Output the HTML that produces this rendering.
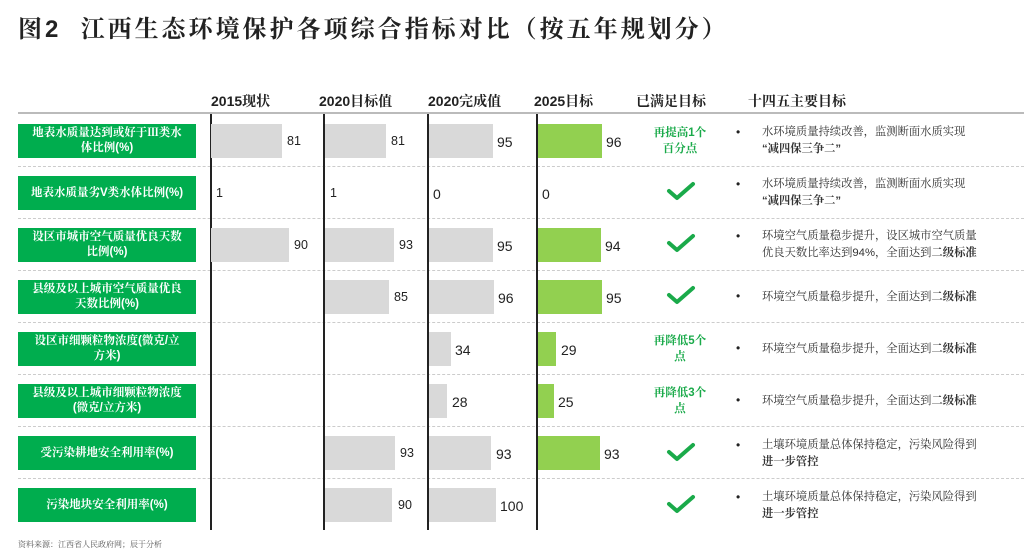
<!DOCTYPE html>
<html><head><meta charset="utf-8"><style>
*{margin:0;padding:0;box-sizing:border-box}
body{width:1024px;height:554px;background:#fff;position:relative;overflow:hidden;font-family:"Liberation Sans","Noto Sans CJK SC",sans-serif;color:#222}
.a{position:absolute}
.title{left:18px;top:9px;font-size:24px;font-weight:bold;letter-spacing:3px;font-family:"Liberation Sans","Noto Serif CJK SC",serif}
.hd{top:91px;font-size:14px;font-weight:bold;font-family:"Liberation Sans","Noto Serif CJK SC",serif}
.lbl{left:18px;width:178px;height:34px;background:#00ad4e;color:#fff;font-size:11.5px;font-weight:bold;display:flex;align-items:center;justify-content:center;text-align:center;line-height:15px;font-family:"Liberation Sans","Noto Serif CJK SC",serif}
.bar{height:34px;background:#d9d9d9}
.g{background:#92d050}
.v{font-size:12.5px;color:#222}
.dash{left:18px;width:1006px;border-top:1px dashed #ccc;height:0}
.vl{width:1.5px;background:#222;top:114px;height:416px}
.ok{font-size:11.5px;color:#1aaa4a;font-weight:bold;text-align:center;width:80px;line-height:16px;font-family:"Liberation Sans","Noto Serif CJK SC",serif}
.txt{left:762px;font-size:11.3px;line-height:17px;color:#333;font-family:"Liberation Sans","Noto Serif CJK SC",serif}
.bl{left:736px;font-size:12px}
</style></head><body>
<div class="a title">图2&nbsp; 江西生态环境保护各项综合指标对比（按五年规划分）</div>
<div class="a hd" style="left:211px">2015现状</div>
<div class="a hd" style="left:319px">2020目标值</div>
<div class="a hd" style="left:428px">2020完成值</div>
<div class="a hd" style="left:534px">2025目标</div>
<div class="a hd" style="left:636px">已满足目标</div>
<div class="a hd" style="left:748px">十四五主要目标</div>
<div class="a" style="left:18px;top:112px;width:1006px;height:2px;background:#bbb"></div>
<div class="a dash" style="top:166px"></div><div class="a dash" style="top:218px"></div><div class="a dash" style="top:270px"></div><div class="a dash" style="top:322px"></div><div class="a dash" style="top:374px"></div><div class="a dash" style="top:426px"></div><div class="a dash" style="top:478px"></div>
<div class="a vl" style="left:210px"></div><div class="a vl" style="left:323px"></div><div class="a vl" style="left:427px"></div><div class="a vl" style="left:536px"></div>

<div class="a lbl" style="top:124px">地表水质量达到或好于Ⅲ类水<br>体比例(%)</div>
<div class="a lbl" style="top:176px">地表水质量劣V类水体比例(%)</div>
<div class="a lbl" style="top:228px">设区市城市空气质量优良天数<br>比例(%)</div>
<div class="a lbl" style="top:280px">县级及以上城市空气质量优良<br>天数比例(%)</div>
<div class="a lbl" style="top:332px">设区市细颗粒物浓度(微克/立<br>方米)</div>
<div class="a lbl" style="top:384px">县级及以上城市细颗粒物浓度<br>(微克/立方米)</div>
<div class="a lbl" style="top:436px">受污染耕地安全利用率(%)</div>
<div class="a lbl" style="top:488px">污染地块安全利用率(%)</div>

<div class="a bar" style="left:211px;top:124px;width:71px"></div><div class="a v" style="left:287px;top:134px">81</div>
<div class="a bar" style="left:325px;top:124px;width:61px"></div><div class="a v" style="left:391px;top:134px">81</div>
<div class="a bar" style="left:429px;top:124px;width:64px"></div><div class="a v" style="left:497px;top:134px;font-size:14px">95</div>
<div class="a bar g" style="left:538px;top:124px;width:64px"></div><div class="a v" style="left:606px;top:134px;font-size:14px">96</div>
<div class="a v" style="left:216px;top:186px">1</div>
<div class="a v" style="left:330px;top:186px">1</div>
<div class="a v" style="left:433px;top:186px;font-size:14px">0</div>
<div class="a v" style="left:542px;top:186px;font-size:14px">0</div>
<div class="a bar" style="left:211px;top:228px;width:78px"></div><div class="a v" style="left:294px;top:238px">90</div>
<div class="a bar" style="left:325px;top:228px;width:69px"></div><div class="a v" style="left:399px;top:238px">93</div>
<div class="a bar" style="left:429px;top:228px;width:64px"></div><div class="a v" style="left:497px;top:238px;font-size:14px">95</div>
<div class="a bar g" style="left:538px;top:228px;width:63px"></div><div class="a v" style="left:605px;top:238px;font-size:14px">94</div>
<div class="a bar" style="left:325px;top:280px;width:64px"></div><div class="a v" style="left:394px;top:290px">85</div>
<div class="a bar" style="left:429px;top:280px;width:65px"></div><div class="a v" style="left:498px;top:290px;font-size:14px">96</div>
<div class="a bar g" style="left:538px;top:280px;width:64px"></div><div class="a v" style="left:606px;top:290px;font-size:14px">95</div>
<div class="a bar" style="left:429px;top:332px;width:22px"></div><div class="a v" style="left:455px;top:342px;font-size:14px">34</div>
<div class="a bar g" style="left:538px;top:332px;width:18px"></div><div class="a v" style="left:561px;top:342px;font-size:14px">29</div>
<div class="a bar" style="left:429px;top:384px;width:18px"></div><div class="a v" style="left:452px;top:394px;font-size:14px">28</div>
<div class="a bar g" style="left:538px;top:384px;width:16px"></div><div class="a v" style="left:558px;top:394px;font-size:14px">25</div>
<div class="a bar" style="left:325px;top:436px;width:70px"></div><div class="a v" style="left:400px;top:446px">93</div>
<div class="a bar" style="left:429px;top:436px;width:62px"></div><div class="a v" style="left:496px;top:446px;font-size:14px">93</div>
<div class="a bar g" style="left:538px;top:436px;width:62px"></div><div class="a v" style="left:604px;top:446px;font-size:14px">93</div>
<div class="a bar" style="left:325px;top:488px;width:67px"></div><div class="a v" style="left:398px;top:498px">90</div>
<div class="a bar" style="left:429px;top:488px;width:67px"></div><div class="a v" style="left:500px;top:498px;font-size:14px">100</div>

<div class="a ok" style="left:640px;top:125px">再提高1个<br>百分点</div>
<div class="a ok" style="left:640px;top:333px">再降低5个<br>点</div>
<div class="a ok" style="left:640px;top:385px">再降低3个<br>点</div>
<svg class="a" style="left:0;top:0" width="1024" height="554">
<g fill="none" stroke="#1aaa4a" stroke-width="4" stroke-linecap="round" stroke-linejoin="round">
<path d="M669 191 L677 198 L693 184"/>
<path d="M669 243 L677 250 L693 236"/>
<path d="M669 295 L677 302 L693 288"/>
<path d="M669 452 L677 459 L693 445"/>
<path d="M669 504 L677 511 L693 497"/>
</g></svg>

<div class="a bl" style="top:125px">•</div><div class="a txt" style="top:124px">水环境质量持续改善，监测断面水质实现<br><b>“减四保三争二”</b></div>
<div class="a bl" style="top:177px">•</div><div class="a txt" style="top:176px">水环境质量持续改善，监测断面水质实现<br><b>“减四保三争二”</b></div>
<div class="a bl" style="top:229px">•</div><div class="a txt" style="top:228px">环境空气质量稳步提升，设区城市空气质量<br>优良天数比率达到94%，全面达到<b>二级标准</b></div>
<div class="a bl" style="top:289px">•</div><div class="a txt" style="top:289px">环境空气质量稳步提升，全面达到<b>二级标准</b></div>
<div class="a bl" style="top:341px">•</div><div class="a txt" style="top:341px">环境空气质量稳步提升，全面达到<b>二级标准</b></div>
<div class="a bl" style="top:393px">•</div><div class="a txt" style="top:393px">环境空气质量稳步提升，全面达到<b>二级标准</b></div>
<div class="a bl" style="top:438px">•</div><div class="a txt" style="top:437px">土壤环境质量总体保持稳定，污染风险得到<br><b>进一步管控</b></div>
<div class="a bl" style="top:490px">•</div><div class="a txt" style="top:489px">土壤环境质量总体保持稳定，污染风险得到<br><b>进一步管控</b></div>

<div class="a" style="left:18px;top:539px;font-size:8px;color:#555;font-family:'Liberation Sans','Noto Serif CJK SC',serif">资料来源：江西省人民政府网；辰于分析</div>
</body></html>
